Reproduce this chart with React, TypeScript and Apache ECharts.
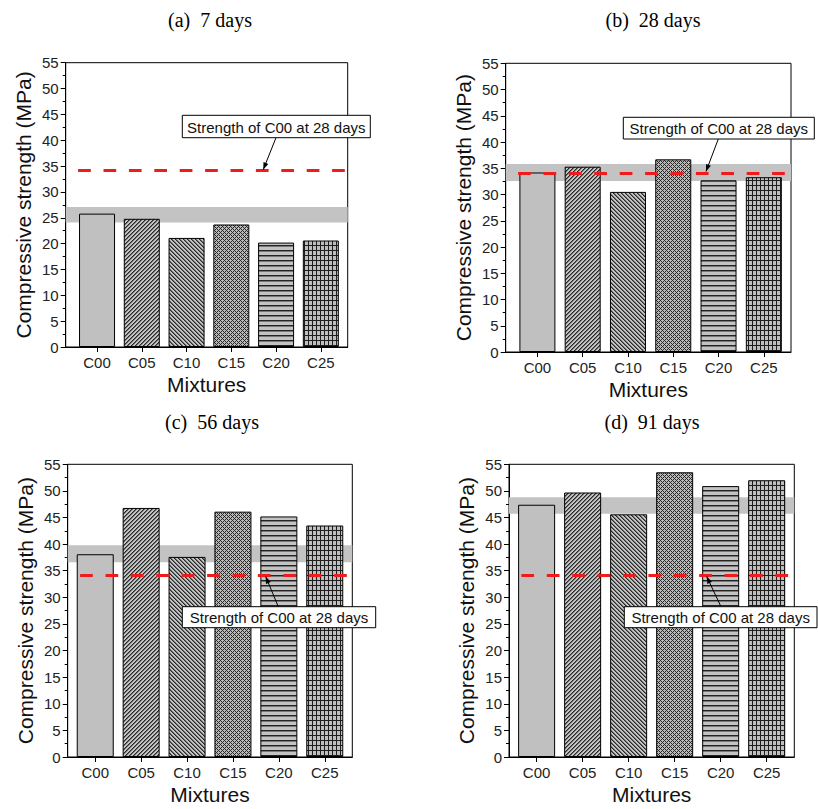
import React, { useEffect, useRef } from "react";
import * as echarts from "echarts";

// ---------------- data ----------------
const categories = ["C00", "C05", "C10", "C15", "C20", "C25"];
const panelTitles = ["(a)  7 days", "(b)  28 days", "(c)  56 days", "(d)  91 days"];
const strength7 = [25.8, 24.8, 21.1, 23.7, 20.2, 20.6];
const strength28 = [34.2, 35.3, 30.5, 36.7, 32.7, 33.3];
const strength56 = [38.1, 46.8, 37.6, 46.1, 45.2, 43.5];
const strength91 = [47.4, 49.7, 45.6, 53.5, 50.9, 52.0];
const bandLow = [24.1, 32.6, 36.6, 45.7];
const bandHigh = [27.1, 35.8, 39.8, 48.8];
const referenceC00at28 = 34.1;
const yMin = 0;
const yMax = 55;
const yStep = 5;
const annotationText = "Strength of C00 at 28 days";
const yAxisTitle = "Compressive strength (MPa)";
const xAxisTitle = "Mixtures";
const allValues = [strength7, strength28, strength56, strength91];

// ---------------- layout ----------------
const layouts = [
  { grid: { left: 65.7, top: 62.7, width: 282, height: 284.3 }, xMin: 0.3, xMax: 6.6, barWidth: 36,
    titleX: 210, titleY: 20, box: { x: 182.3, y: 115.3, w: 188, h: 22.4 }, arrowFrom: [276, 137.7], arrowTo: [263.3, 169.5] },
  { grid: { left: 505.7, top: 63.3, width: 285.3, height: 288.7 }, xMin: 0.3, xMax: 6.6, barWidth: 36,
    titleX: 653, titleY: 20, box: { x: 623.3, y: 117.3, w: 191, h: 21.7 }, arrowFrom: [718.3, 139], arrowTo: [706, 171.5] },
  { grid: { left: 67.7, top: 464.3, width: 284.6, height: 292.7 }, xMin: 0.4, xMax: 6.6, barWidth: 37,
    titleX: 212, titleY: 422, box: { x: 182.3, y: 606.7, w: 193.4, h: 21 }, arrowFrom: [278.3, 606.7], arrowTo: [265.7, 576.5] },
  { grid: { left: 509, top: 464.3, width: 285.3, height: 292.7 }, xMin: 0.4, xMax: 6.6, barWidth: 37,
    titleX: 652, titleY: 422, box: { x: 624.3, y: 606.7, w: 192.7, h: 21 }, arrowFrom: [721, 606.7], arrowTo: [706.7, 576.5] },
];

const patternKinds = ["plain", "fwd", "back", "cross", "horizontal", "grid"];
const SANS = "'Liberation Sans', Arial, sans-serif";
const SERIF = "'Liberation Serif', 'Times New Roman', serif";

function makePattern(kind: string): any {
  if (kind === "plain") return "#c0c0c0";
  let w = 4, h = 4;
  if (kind === "horizontal") { w = 5; h = 5; }
  if (kind === "grid") { w = 4; h = 5; }
  const c = document.createElement("canvas");
  c.width = w; c.height = h;
  const ctx = c.getContext("2d")!;
  const img = ctx.createImageData(w, h);
  for (let y = 0; y < h; y++) {
    for (let x = 0; x < w; x++) {
      let s = 195;
      const d1 = (x + y) % 4;
      const d2 = (((x - y) % 4) + 4) % 4;
      if (kind === "fwd") s = d1 === 0 ? 40 : d1 === 1 ? 110 : 195;
      else if (kind === "back") s = d2 === 0 ? 40 : d2 === 1 ? 110 : 195;
      else if (kind === "cross") s = d1 === 0 || d2 === 0 ? 40 : 185;
      else if (kind === "horizontal") s = y === 0 ? 35 : y === 1 ? 120 : 195;
      else if (kind === "grid") s = x === 0 || y === 0 ? 30 : 190;
      const i = (y * w + x) * 4;
      img.data[i] = s; img.data[i + 1] = s; img.data[i + 2] = s; img.data[i + 3] = 255;
    }
  }
  ctx.putImageData(img, 0, 0);
  return { image: c, repeat: "repeat", imageWidth: w, imageHeight: h };
}

function arrowHead(from: number[], to: number[]) {
  const dx = to[0] - from[0], dy = to[1] - from[1];
  const len = Math.sqrt(dx * dx + dy * dy);
  const ux = dx / len, uy = dy / len;
  const L = 7, W = 2.6;
  const bx = to[0] - ux * L, by = to[1] - uy * L;
  return [[to[0], to[1]], [bx - uy * W, by + ux * W], [bx + uy * W, by - ux * W]];
}

export default function App() {
  const ref = useRef<HTMLDivElement>(null);
  useEffect(() => {
    if (!ref.current) return;
    const chart = echarts.init(ref.current, null, { renderer: "svg" });
    const patterns = patternKinds.map(makePattern);
    const ticks = categories.map((_, i) => i + 1);

    const grids: any[] = [];
    const xAxes: any[] = [];
    const yAxes: any[] = [];
    const series: any[] = [];
    const graphics: any[] = [];

    layouts.forEach((L, k) => {
      grids.push({ ...L.grid, show: true, borderColor: "#000", borderWidth: 1, backgroundColor: "transparent" });
      xAxes.push({
        gridIndex: k, type: "value", min: L.xMin, max: L.xMax,
        axisLine: { show: true, onZero: false, lineStyle: { color: "#000", width: 1 } },
        axisTick: { show: true, length: 5, customValues: ticks, lineStyle: { color: "#000" } },
        axisLabel: {
          customValues: ticks, margin: 8, fontSize: 15, color: "#222", fontFamily: SANS,
          formatter: (v: number) => (Math.abs(v - Math.round(v)) < 1e-6 && categories[Math.round(v) - 1]) || "",
        },
        splitLine: { show: false },
        name: xAxisTitle, nameLocation: "middle", nameGap: 27,
        nameTextStyle: { fontSize: 21, color: "#111", fontFamily: SANS },
      });
      yAxes.push({
        gridIndex: k, type: "value", min: yMin, max: yMax, interval: yStep,
        axisLine: { show: true, lineStyle: { color: "#000", width: 1 } },
        axisTick: { show: true, length: 5, lineStyle: { color: "#000" } },
        minorTick: { show: true, splitNumber: 2, length: 3, lineStyle: { color: "#000" } },
        axisLabel: { margin: 7, fontSize: 15, color: "#222", fontFamily: SANS },
        splitLine: { show: false },
        name: yAxisTitle, nameLocation: "middle", nameGap: 32,
        nameTextStyle: { fontSize: 21, color: "#111", fontFamily: SANS },
      });
      series.push({
        type: "bar", xAxisIndex: k, yAxisIndex: k, barWidth: L.barWidth, z: 2,
        data: allValues[k].map((v, i) => ({
          value: [i + 1, v],
          itemStyle: { color: patterns[i], borderColor: "#000", borderWidth: 1 },
        })),
        markArea: {
          silent: true, z: 1,
          itemStyle: { color: "#c3c3c3" },
          data: [[{ yAxis: bandLow[k] }, { yAxis: bandHigh[k] }]],
        },
        markLine: {
          silent: true, symbol: "none", z: 5,
          label: { show: false },
          lineStyle: { color: "#ee1c1c", width: 3, type: [12.7, 12.7], dashOffset: 12.7 },
          data: [{ yAxis: referenceC00at28 }],
        },
      });
      graphics.push({
        type: "text", x: L.titleX, y: L.titleY, z: 10,
        style: { text: panelTitles[k], align: "center", verticalAlign: "middle", fill: "#000", font: `20px ${SERIF}` },
      });
      graphics.push({
        type: "line", z: 10,
        shape: { x1: L.arrowFrom[0], y1: L.arrowFrom[1], x2: L.arrowTo[0], y2: L.arrowTo[1] },
        style: { stroke: "#000", lineWidth: 1 },
      });
      graphics.push({
        type: "polygon", z: 10,
        shape: { points: arrowHead(L.arrowFrom, L.arrowTo) },
        style: { fill: "#000" },
      });
      graphics.push({
        type: "rect", z: 10,
        shape: { x: L.box.x, y: L.box.y, width: L.box.w, height: L.box.h },
        style: { fill: "#fff", stroke: "#000", lineWidth: 1 },
      });
      graphics.push({
        type: "text", z: 11, x: L.box.x + L.box.w / 2, y: L.box.y + L.box.h / 2 + 0.5,
        style: { text: annotationText, align: "center", verticalAlign: "middle", fill: "#111", font: `15px ${SANS}` },
      });
    });

    chart.setOption({
      animation: false,
      backgroundColor: "#fff",
      grid: grids,
      xAxis: xAxes,
      yAxis: yAxes,
      series,
      graphic: graphics,
    });
    return () => chart.dispose();
  }, []);
  return <div ref={ref} style={{ position: "absolute", left: 0, top: 0, width: 818, height: 809 }} />;
}
